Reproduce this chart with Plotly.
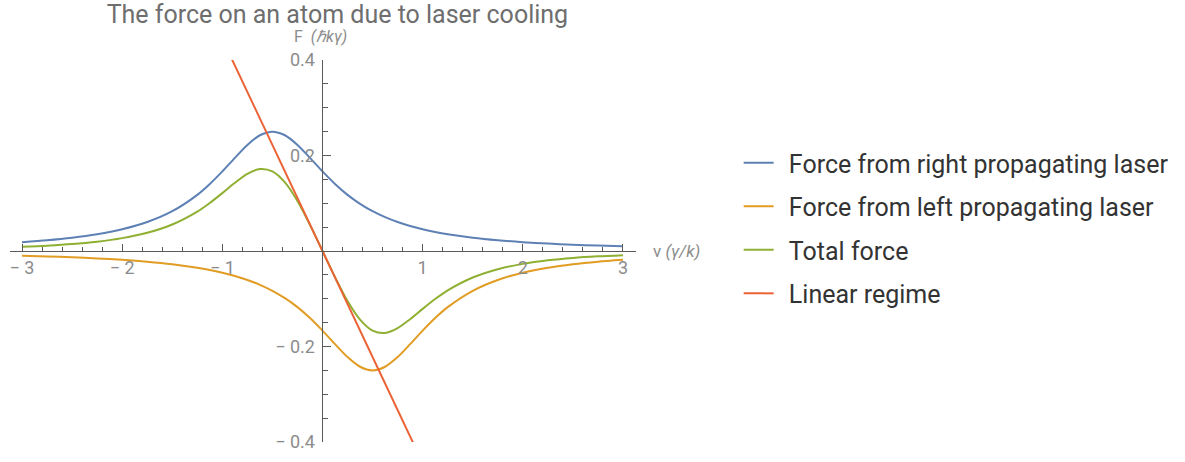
import plotly.graph_objects as go

# velocity grid (units of gamma/k)
v = [-3, -2.75, -2.5, -2.25, -2, -1.75, -1.5, -1.25, -1.125, -1, -0.875, -0.75, -0.625, -0.5,
     -0.375, -0.25, -0.125, 0, 0.125, 0.25, 0.375, 0.5, 0.625, 0.75, 0.875, 1, 1.125, 1.25,
     1.5, 1.75, 2, 2.25, 2.5, 2.75, 3]

# Force from right propagating laser (units of hbar k gamma)
f_right = [0.0185, 0.0225, 0.0278, 0.0351, 0.0455, 0.0606, 0.0833, 0.1176, 0.1404, 0.1667,
           0.1951, 0.2222, 0.2424, 0.25, 0.2424, 0.2222, 0.1951, 0.1667, 0.1404, 0.1176,
           0.0988, 0.0833, 0.0708, 0.0606, 0.0523, 0.0455, 0.0398, 0.0351, 0.0278, 0.0225,
           0.0185, 0.0155, 0.0132, 0.0113, 0.0098]

# Force from left propagating laser
f_left = [-0.0098, -0.0113, -0.0132, -0.0155, -0.0185, -0.0225, -0.0278, -0.0351, -0.0398,
          -0.0455, -0.0523, -0.0606, -0.0708, -0.0833, -0.0988, -0.1176, -0.1404, -0.1667,
          -0.1951, -0.2222, -0.2424, -0.25, -0.2424, -0.2222, -0.1951, -0.1667, -0.1404,
          -0.1176, -0.0833, -0.0606, -0.0455, -0.0351, -0.0278, -0.0225, -0.0185]

# Total force
f_total = [0.0087, 0.0112, 0.0146, 0.0196, 0.0270, 0.0381, 0.0555, 0.0825, 0.1006, 0.1212,
           0.1428, 0.1616, 0.1716, 0.1667, 0.1436, 0.1046, 0.0547, 0.0, -0.0547, -0.1046,
           -0.1436, -0.1667, -0.1716, -0.1616, -0.1428, -0.1212, -0.1006, -0.0825, -0.0555,
           -0.0381, -0.0270, -0.0196, -0.0146, -0.0112, -0.0087]

# Linear regime
v_lin = [-1.0, 1.0]
f_lin = [0.444, -0.444]

names = ["Force from right propagating laser", "Force from left propagating laser",
         "Total force", "Linear regime"]
colors = ["#5E81B5", "#E19C24", "#8FB032", "#EB6235"]

x_ticks = [-3, -2, -1, 1, 2, 3]
x_ticktext = ["\u2212 3", "\u2212 2", "\u2212 1", "1", "2", "3"]
y_ticks = [-0.4, -0.2, 0.2, 0.4]
y_ticktext = ["\u2212 0.4", "\u2212 0.2", "0.2", "0.4"]

x_range = [-3.12, 3.13]
y_range = [-0.4, 0.4]

fig = go.Figure()
series = [(v, f_right), (v, f_left), (v, f_total), (v_lin, f_lin)]
for i, ((xs, ys), name, c) in enumerate(zip(series, names, colors)):
    fig.add_trace(go.Scatter(
        x=xs, y=ys, mode="lines", name="\u2009\u2009" + name, legendgroup=str(i),
        line=dict(color=c, width=2, shape="spline" if i < 3 else "linear", smoothing=0.8),
    ))

axis_col = "#5a5a5a"
tick_font = dict(family="Roboto", size=18, color="#8c8c8c")

fig.update_layout(
    width=1185, height=462,
    margin=dict(l=10, r=549, t=60, b=13),
    paper_bgcolor="white", plot_bgcolor="white",
    font=dict(family="Roboto"),
    showlegend=True,
    legend=dict(x=1.164, xanchor="left", y=0.56, yanchor="middle",
                font=dict(family="Roboto", size=25, color="#333333"),
                tracegroupgap=8, bgcolor="rgba(0,0,0,0)"),
    title=dict(text="The force on an atom due to laser cooling",
               font=dict(family="Roboto", size=25, color="#6e6e6e"),
               xref="paper", x=0.523, xanchor="center",
               yref="container", y=0.9686, yanchor="middle"),
    xaxis=dict(range=x_range, showgrid=False, zeroline=False,
               showline=True, linecolor=axis_col, linewidth=1,
               anchor="free", position=(0 - y_range[0]) / (y_range[1] - y_range[0]),
               tickmode="array", tickvals=x_ticks, ticktext=x_ticktext,
               ticks="inside", ticklen=7, tickcolor=axis_col, tickwidth=1,
               tickfont=tick_font,
               minor=dict(tickmode="linear", tick0=0, dtick=0.2, ticks="inside",
                          ticklen=4, tickcolor=axis_col, tickwidth=1, showgrid=False)),
    yaxis=dict(range=y_range, showgrid=False, zeroline=False,
               showline=True, linecolor=axis_col, linewidth=1,
               anchor="free", position=(0 - x_range[0]) / (x_range[1] - x_range[0]),
               tickmode="array", tickvals=y_ticks, ticktext=y_ticktext,
               ticks="inside", ticklen=8, tickcolor=axis_col, tickwidth=1,
               tickfont=tick_font, ticklabelstandoff=4,
               minor=dict(tickmode="linear", tick0=0, dtick=0.05, ticks="inside",
                          ticklen=5, tickcolor=axis_col, tickwidth=1, showgrid=False)),
)

fig.add_annotation(text="F  <i>(\u210fk\u03b3)</i>", xref="x", x=0, yref="paper", y=1.0,
                   yanchor="bottom", yshift=12, xanchor="center", xshift=-2, showarrow=False,
                   font=dict(family="Roboto", size=16, color="#8c8c8c"))
fig.add_annotation(text="v <i>(\u03b3/k)</i>", xref="paper", x=1.0, yref="y", y=0,
                   xanchor="left", xshift=15, yanchor="middle", showarrow=False,
                   font=dict(family="Roboto", size=17, color="#8c8c8c"))

fig.write_html("out.html")
